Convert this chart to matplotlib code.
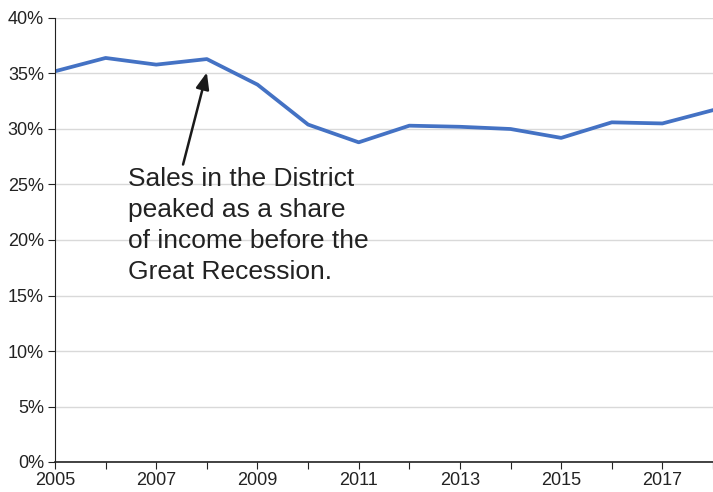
import matplotlib
matplotlib.use("Agg")
import matplotlib.pyplot as plt
from matplotlib.ticker import FuncFormatter, MultipleLocator

plt.rcParams['font.family'] = ['Liberation Sans', 'DejaVu Sans']

years = [2005, 2006, 2007, 2008, 2009, 2010, 2011, 2012, 2013, 2014, 2015, 2016, 2017, 2018]
share = [35.2, 36.4, 35.8, 36.3, 34.0, 30.4, 28.8, 30.3, 30.2, 30.0, 29.2, 30.6, 30.5, 31.7]
xtick_labels = ['2005', '2007', '2009', '2011', '2013', '2015', '2017']
annotation = "Sales in the District\npeaked as a share\nof income before the\nGreat Recession."

fig = plt.figure(figsize=(7.13, 4.92), dpi=100)
ax = fig.add_axes([55/713, 30/492, 1 - 55/713, (462-18)/492])

ax.plot(years, share, color='#4472C4', linewidth=2.7, solid_joinstyle='round', clip_on=True)

ax.set_xlim(2005, 2017.86)
ax.set_ylim(0, 40)
ax.yaxis.set_major_locator(MultipleLocator(5))
ax.yaxis.set_major_formatter(FuncFormatter(lambda v, p: f"{int(v)}%"))
ax.set_xticks(years)
ax.set_xticklabels([str(y) if str(y) in xtick_labels else '' for y in years])
ax.grid(axis='y', color='#d9d9d9', linewidth=1)
ax.set_axisbelow(True)
for s in ['top', 'right']:
    ax.spines[s].set_visible(False)
ax.spines['left'].set_color('#222222')
ax.spines['bottom'].set_color('#222222')
ax.spines['bottom'].set_linewidth(1.2)
ax.tick_params(axis='both', direction='out', length=5, color='#222222', labelsize=13, labelcolor='#222222')
ax.tick_params(axis='y', pad=3)
ax.tick_params(axis='x', pad=2)

ax.annotate('', xy=(2008.0, 35.1), xytext=(2007.53, 26.8),
            arrowprops=dict(arrowstyle='-|>,head_length=1.0,head_width=0.4', color='#1a1a1a', lw=1.8, shrinkA=0, shrinkB=0))
ax.text(2006.45, 26.6, annotation, fontsize=19, color='#222222', va='top', ha='left', linespacing=1.37)

fig.savefig('out.png', dpi=100)
